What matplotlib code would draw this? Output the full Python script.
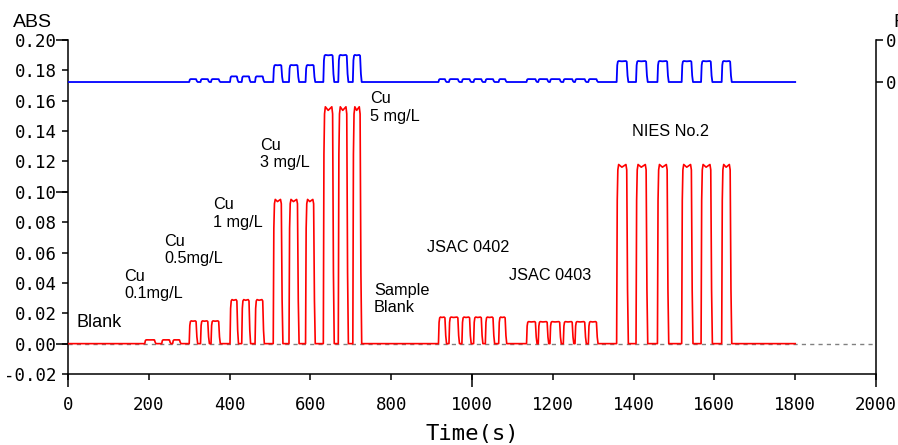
import matplotlib
matplotlib.use("Agg")
import matplotlib.pyplot as plt
from matplotlib.ticker import FixedLocator

# pulse timing (s), one list per sample group
group_names = ["Cu 0.1", "Cu 0.5", "Cu 1", "Cu 3", "Cu 5", "JSAC 0402", "JSAC 0403", "NIES No.2"]
pulse_start = [
    [190, 232, 259],
    [300, 328, 354],
    [401, 430, 463],
    [508, 547, 588],
    [632, 669, 705],
    [917, 943, 975, 1004, 1033, 1066],
    [1135, 1164, 1193, 1226, 1255, 1288],
    [1358, 1406, 1459, 1519, 1567, 1618],
]
pulse_end = [
    [215, 252, 277],
    [318, 347, 374],
    [419, 449, 483],
    [529, 569, 609],
    [656, 691, 724],
    [934, 966, 995, 1024, 1053, 1083],
    [1158, 1187, 1218, 1249, 1280, 1309],
    [1384, 1432, 1484, 1544, 1592, 1640],
]
red_height = [0.0025, 0.015, 0.029, 0.095, 0.156, 0.0175, 0.0145, 0.118]   # ABS
blue_height = [0.0, 0.014, 0.027, 0.081, 0.129, 0.014, 0.014, 0.100]     # right axis
t_end = 1800

# annotation texts
ann_text = ["Blank", "Cu\n0.1mg/L", "Cu\n0.5mg/L", "Cu\n1 mg/L", "Cu\n3 mg/L", "Cu\n5 mg/L",
            "Sample\nBlank", "JSAC 0402", "JSAC 0403", "NIES No.2"]
ann_x = [20, 139, 238, 359, 475, 748, 757, 889, 1092, 1396]
ann_y = [0.0195, 0.0491, 0.0722, 0.0964, 0.1357, 0.1663, 0.0399, 0.0682, 0.0498, 0.1446]

x_ticks = list(range(0, 2001, 200))
y_ticks = [round(-0.02 + 0.02 * i, 2) for i in range(12)]


def build_trace(heights):
    # turn each pulse into a flat-topped peak with steep edges
    xs, ys = [0], [0]
    for starts, ends, h in zip(pulse_start, pulse_end, heights):
        for s, e in zip(starts, ends):
            xs += [s, s + 1.5, s + 3, s + 5, (s + e) / 2, e - 3, e - 1, e + 1, e + 3]
            ys += [0, 0.8 * h, 0.97 * h, h, 0.985 * h, h, 0.97 * h, 0.3 * h, 0]
    xs.append(t_end)
    ys.append(0)
    return xs, ys


tick_font = "DejaVu Sans Mono"
text_font = "Liberation Sans"

fig = plt.figure(figsize=(8.98, 4.45), dpi=100)
ax = fig.add_axes([68 / 898, 71 / 445, 808 / 898, 334 / 445])

# zero line
ax.plot([0, 2000], [0, 0], color="#808080", lw=1.0, ls=(0, (3, 3)), zorder=1)

rx, ry = build_trace(red_height)
ax.plot(rx, ry, color="#ff0000", lw=1.2, zorder=3)

ax.set_xlim(0, 2000)
ax.set_ylim(-0.02, 0.20)

ax.set_xticks(x_ticks)
ax.set_xticklabels([str(v) for v in x_ticks], fontfamily=tick_font, fontsize=12.5)
ax.set_yticks(y_ticks)
ax.set_yticklabels(["%.2f" % v for v in y_ticks], fontfamily=tick_font, fontsize=12.5)
ax.xaxis.set_minor_locator(FixedLocator([0, 1000, 2000]))
ax.yaxis.set_minor_locator(FixedLocator([0.0, 0.1, 0.2]))
ax.xaxis.remove_overlapping_locs = False
ax.yaxis.remove_overlapping_locs = False
ax.tick_params(which="major", direction="out", length=4, width=1.1)
ax.tick_params(which="minor", direction="out", length=9, width=1.1)
ax.tick_params(axis="x", which="major", pad=12)
ax.tick_params(axis="y", which="major", pad=4)

for side in ["left", "bottom"]:
    ax.spines[side].set_linewidth(1.1)
ax.spines["top"].set_visible(False)
ax.spines["right"].set_visible(False)

ax.set_xlabel("Time(s)", fontfamily="DejaVu Sans Mono", fontsize=16, labelpad=7)

for txt, x, y in zip(ann_text, ann_x, ann_y):
    size = 13 if txt == "Blank" else 11.7
    ax.text(x, y, txt, fontfamily=text_font, fontsize=size, ha="left", va="top",
            linespacing=1.2, zorder=5)

# second trace on its own right-hand axis
ax2 = ax.twinx()
bx, by = build_trace(blue_height)
ax2.plot(bx, by, color="#0000ff", lw=1.3)
ax2.set_ylim(-1.39, 0.2)
ax2.set_yticks([0.0, 0.2])
ax2.set_yticklabels(["0.0", "0.2"], fontfamily=tick_font, fontsize=12.5)
ax2.tick_params(direction="out", length=5, width=1.1, pad=2)
for side in ["left", "top", "bottom"]:
    ax2.spines[side].set_visible(False)
ax2.spines["right"].set_linewidth(1.1)

fig.text(13 / 898, 1 - 27 / 445, "ABS", fontfamily=text_font, fontsize=14, ha="left", va="baseline")
fig.text(893 / 898, 1 - 27 / 445, "FL", fontfamily=text_font, fontsize=14, ha="left", va="baseline")

fig.savefig("out.png", dpi=100)
